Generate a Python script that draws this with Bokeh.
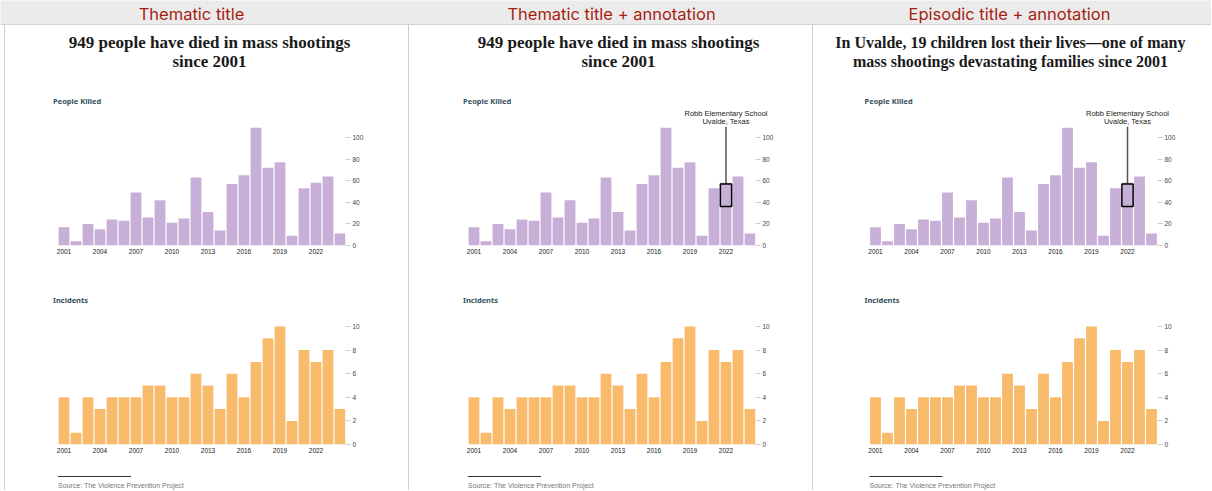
from bokeh.plotting import figure
from bokeh.layouts import column, row
from bokeh.models import Range1d, FixedTicker, Spacer
from bokeh.core.properties import value
from bokeh.embed import file_html
from bokeh.resources import INLINE

# ---------------- data ----------------
years = list(range(2001, 2025))
killed = [17, 4, 20, 15, 24, 23, 49, 26, 42, 21, 25, 63, 31, 14, 57, 65, 109, 72, 77, 9, 53, 58, 64, 11]
incidents = [4, 1, 4, 3, 4, 4, 4, 5, 5, 4, 4, 6, 5, 3, 6, 4, 7, 9, 10, 2, 8, 7, 8, 3]
year_ticks = [2001, 2004, 2007, 2010, 2013, 2016, 2019, 2022]
killed_ticks = [0, 20, 40, 60, 80, 100]
incident_ticks = [0, 2, 4, 6, 8, 10]
headers = ["Thematic title", "Thematic title + annotation", "Episodic title + annotation"]
titles = [
    ["949 people have died in mass shootings", "since 2001"],
    ["949 people have died in mass shootings", "since 2001"],
    ["In Uvalde, 19 children lost their lives\u2014one of many",
     "mass shootings devastating families since 2001"],
]
has_annotation = [False, True, True]
annotation_year = 2022
annotation_low = 36
annotation_high = 57
annotation_lines = ["Robb Elementary School", "Uvalde, Texas"]
chart_labels = ["People Killed", "Incidents"]
source_text = "Source: The Violence Prevention Project"

# ---------------- layout constants ----------------
TOTAL_W = 1211
HEADER_H = 25
LEFT_PAD = 4
panel_w = [403, 403, 397]
bar_left = [52.5, 58.5, 56]
title_cx = [204, 209, 197]
title_size = ["17px", "17px", "16px"]
header_cx = [191, 611, 1009]
SLOT = 12.0
FRAME_LEFT = 50

PURPLE = "#c8afd7"
ORANGE = "#f8bb6c"
LABEL_COLOR = "#34505c"
BORDER = "#cdcdcd"


def blank(w, h, bg="white"):
    p = figure(width=w, height=h, x_range=Range1d(0, w), y_range=Range1d(h, 0),
               x_axis_type=None, y_axis_type=None, output_backend="svg", toolbar_location=None,
               min_border=0, outline_line_color=None, frame_align=False,
               background_fill_color=bg, border_fill_color=bg)
    return p


# ---------------- header ----------------
hdr = blank(TOTAL_W, HEADER_H, "#ebebeb")
hdr.text(x=header_cx, y=[13] * 3, text=headers, text_align="center", text_baseline="middle",
         text_font=value("Inter"), text_font_size="16.5px", text_color="#a51e12")
hdr.segment(x0=[0], y0=[24.3], x1=[TOTAL_W], y1=[24.3], line_color="#d2d2d2", line_width=1.5)


def chart(W, H, L, baseline, ppu, vals, color, ticks, annotate):
    x0 = 2000.5 - (L - FRAME_LEFT) / SLOT
    frame_w = int(round((L - FRAME_LEFT) + 24 * SLOT))
    R = W - FRAME_LEFT - frame_w
    y_end = baseline / ppu
    p = figure(width=W, height=H, x_range=Range1d(x0, x0 + frame_w / SLOT), y_range=Range1d(0, y_end),
               y_axis_location="right", output_backend="svg", toolbar_location=None,
               min_border_left=FRAME_LEFT, min_border_right=int(R), min_border_top=0,
               min_border_bottom=H - baseline, outline_line_color=None, frame_align=False,
               background_fill_color="white", border_fill_color="white")
    p.xgrid.visible = False
    p.ygrid.visible = False
    p.vbar(x=years, top=vals, width=0.9, bottom=0, fill_color=color, line_color=None)

    xa = p.xaxis[0]
    xa.ticker = FixedTicker(ticks=year_ticks)
    xa.axis_line_color = None
    xa.major_tick_line_color = None
    xa.minor_tick_line_color = None
    xa.major_tick_out = 0
    xa.major_tick_in = 0
    xa.major_label_standoff = 3
    xa.major_label_text_font = "Liberation Sans"
    xa.major_label_text_font_size = "6.5px"
    xa.major_label_text_color = "#222222"

    ya = p.yaxis[0]
    ya.ticker = FixedTicker(ticks=ticks)
    ya.axis_line_color = None
    ya.major_tick_out = 5
    ya.major_tick_in = 0
    ya.major_tick_line_color = "#cccccc"
    ya.minor_tick_line_color = None
    ya.major_label_standoff = 2
    ya.major_label_text_font = "Liberation Sans"
    ya.major_label_text_font_size = "6.5px"
    ya.major_label_text_color = "#444444"

    if annotate:
        p.segment(x0=[annotation_year], y0=[annotation_high], x1=[annotation_year],
                  y1=[y_end], line_color="#555555", line_width=1.5)
        p.quad(left=[annotation_year - 0.47], right=[annotation_year + 0.47],
               bottom=[annotation_low], top=[annotation_high],
               fill_color=None, line_color="black", line_width=1.5)
    return p


panels = []
for i in range(3):
    W = panel_w[i]
    L = bar_left[i]
    # title
    t = blank(W, 63)
    t.text(x=[title_cx[i]] * 2, y=[17, 36], text=titles[i], text_align="center",
           text_baseline="middle", text_font=value("Liberation Serif"), text_font_style="bold",
           text_font_size=title_size[i], text_color="#1a1a1a")
    # killed label + annotation text
    kl = blank(W, 38)
    kl.text(x=[L - 5], y=[12], text=[chart_labels[0]], text_align="left", text_baseline="middle",
            text_font=value("Noto Sans"), text_font_style="bold", text_font_size="7.5px",
            text_color=LABEL_COLOR)
    if has_annotation[i]:
        ax = L + (annotation_year - 2000.5) * SLOT
        kl.text(x=[ax, ax], y=[25, 33], text=annotation_lines, text_align="center",
                text_baseline="middle", text_font=value("Liberation Sans"), text_font_size="7.5px",
                text_color="#222222")
    k = chart(W, 139, L, 119, 1.08, killed, PURPLE, killed_ticks, has_annotation[i])
    # incidents label
    nl = blank(W, 53)
    nl.text(x=[L - 5], y=[34], text=[chart_labels[1]], text_align="left", text_baseline="middle",
            text_font=value("Noto Sans"), text_font_style="bold", text_font_size="7.5px",
            text_color=LABEL_COLOR)
    n = chart(W, 144, L, 126, 11.8, incidents, ORANGE, incident_ticks, False)
    # source
    s = blank(W, 28)
    s.segment(x0=[L], y0=[14], x1=[L + 73], y1=[14], line_color="#333333", line_width=1)
    s.text(x=[L], y=[23], text=[source_text], text_align="left", text_baseline="middle",
           text_font=value("Liberation Sans"), text_font_size="7px", text_color="#777777")
    panels.append(column(t, kl, k, nl, n, s, spacing=0))

items = [Spacer(width=LEFT_PAD, height=465)]
for pnl in panels:
    items.append(Spacer(width=1, height=465, styles={"background-color": BORDER}))
    items.append(pnl)

layout = column(hdr, row(*items, spacing=0), spacing=0)

open("out.html", "w").write(file_html(layout, INLINE))
